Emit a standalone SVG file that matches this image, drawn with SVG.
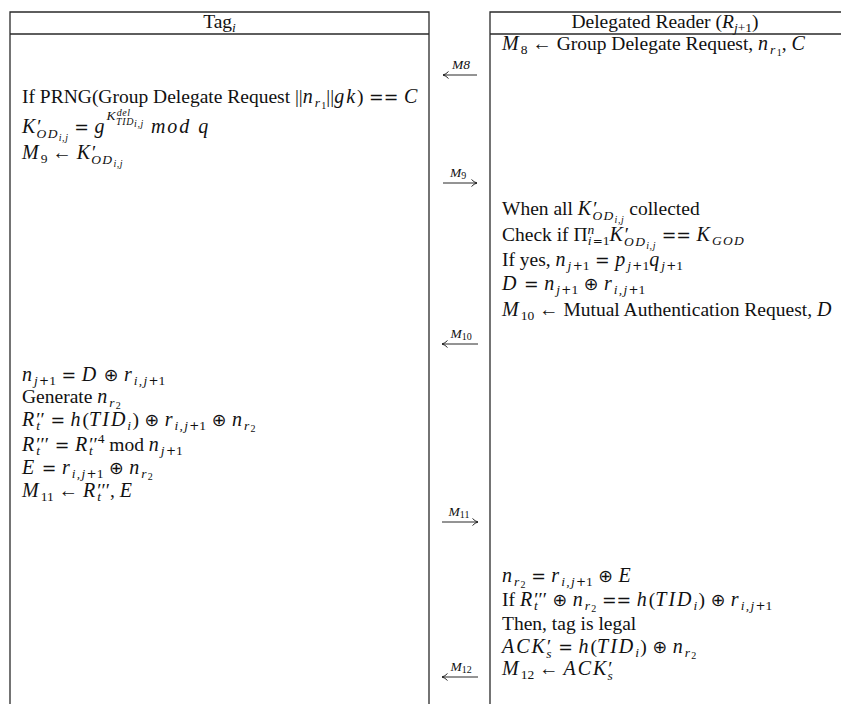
<svg xmlns="http://www.w3.org/2000/svg" width="841" height="704" viewBox="0 0 841 704">
<style>
.t{font-family:"Liberation Serif","Times New Roman",serif;font-size:19.5px;fill:#111}
.m{font-style:italic;font-size:20px;letter-spacing:2px}
.s{font-size:13.5px}
.sm{font-size:13.5px;font-style:italic;letter-spacing:1.3px}
.ss{font-size:10px}
.ssm{font-size:10px;font-style:italic;letter-spacing:0.6px}
.o{font-family:"DejaVu Sans",sans-serif;font-size:17.5px}
.so{font-family:"DejaVu Sans",sans-serif;font-size:12px}
.pr{font-size:19.5px;font-style:normal;letter-spacing:0}
.lbl{font-family:"Liberation Serif","Times New Roman",serif;font-size:13.5px;font-style:italic;fill:#111;text-anchor:middle}
.box{fill:none;stroke:#2a2a2a;stroke-width:1.3}
.arr{fill:none;stroke:#111;stroke-width:0.9}
</style>
<defs>
<marker id="ah" viewBox="0 0 6 10" refX="6" refY="5" markerWidth="6" markerHeight="10" markerUnits="userSpaceOnUse" orient="auto-start-reverse">
<path d="M0.5,1.5 Q3,4.2 6,5 Q3,5.8 0.5,8.5" fill="none" stroke="#111" stroke-width="0.9"/>
</marker>
</defs>
<rect width="841" height="704" fill="#fff"/>

<g id="tag">
<path class="box" d="M10,704 V12 H429 V704 M10,34 H429"/>
<text class="t" x="219.5" y="28" text-anchor="middle">Tag<tspan class="s" font-style="italic" dy="4">i</tspan></text>
<text class="t" x="22" y="103">If PRNG(Group Delegate Request ||<tspan class="m">n</tspan><tspan class="sm" dy="4">r</tspan><tspan class="ss" dy="2">1</tspan><tspan dy="-6">||</tspan><tspan class="m">gk</tspan>)<tspan class="o"> == </tspan><tspan class="m">C</tspan></text>
<text class="t" x="22" y="133"><tspan class="m">K</tspan><tspan class="pr">′</tspan><tspan class="sm" dx="-5" dy="5">OD</tspan><tspan class="ssm" dy="3">i,j</tspan><tspan class="o" dy="-8"> = </tspan><tspan class="m">g</tspan><tspan class="sm" dy="-13">K</tspan><tspan class="ssm" font-size="10.5" dy="-4">del</tspan><tspan class="ssm" font-size="10.5" dx="-14.6" dy="9">TID</tspan><tspan class="ssm" dy="2">i,j</tspan><tspan class="m" dy="6">  mod q</tspan></text>
<text class="t" x="22" y="159"><tspan class="m">M</tspan><tspan class="s" dy="4">9</tspan><tspan dy="-4"> ← </tspan><tspan class="m">K</tspan><tspan class="pr">′</tspan><tspan class="sm" dx="-5" dy="5">OD</tspan><tspan class="ssm" dy="3">i,j</tspan></text>
<text class="t" x="22" y="381"><tspan class="m">n</tspan><tspan class="sm" dy="4">j</tspan><tspan class="so">+</tspan><tspan class="s">1</tspan><tspan class="o" dy="-4"> = </tspan><tspan class="m">D</tspan><tspan class="o"> ⊕ </tspan><tspan class="m">r</tspan><tspan class="sm" dy="4">i,j</tspan><tspan class="so">+</tspan><tspan class="s">1</tspan></text>
<text class="t" x="22" y="403">Generate <tspan class="m">n</tspan><tspan class="sm" dy="4">r</tspan><tspan class="ss" dy="2">2</tspan></text>
<text class="t" x="22" y="426"><tspan class="m">R</tspan><tspan class="sm" dy="4">t</tspan><tspan class="pr" dx="-5" dy="-4">′′</tspan><tspan class="o"> = </tspan><tspan class="m">h</tspan>(<tspan class="m">TID</tspan><tspan class="sm" dy="4">i</tspan><tspan dy="-4">)</tspan><tspan class="o"> ⊕ </tspan><tspan class="m">r</tspan><tspan class="sm" dy="4">i,j</tspan><tspan class="so">+</tspan><tspan class="s">1</tspan><tspan class="o" dy="-4"> ⊕ </tspan><tspan class="m">n</tspan><tspan class="sm" dy="4">r</tspan><tspan class="ss" dy="2">2</tspan></text>
<text class="t" x="22" y="451"><tspan class="m">R</tspan><tspan class="sm" dy="4">t</tspan><tspan class="pr" dx="-5" dy="-4">′′′</tspan><tspan class="o"> = </tspan><tspan class="m">R</tspan><tspan class="sm" dy="4">t</tspan><tspan class="pr" dx="-5" dy="-4">′′</tspan><tspan class="s" dy="-8">4</tspan><tspan dy="8"> mod </tspan><tspan class="m">n</tspan><tspan class="sm" dy="4">j</tspan><tspan class="so">+</tspan><tspan class="s">1</tspan></text>
<text class="t" x="22" y="474"><tspan class="m">E</tspan><tspan class="o"> = </tspan><tspan class="m">r</tspan><tspan class="sm" dy="4">i,j</tspan><tspan class="so">+</tspan><tspan class="s">1</tspan><tspan class="o" dy="-4"> ⊕ </tspan><tspan class="m">n</tspan><tspan class="sm" dy="4">r</tspan><tspan class="ss" dy="2">2</tspan></text>
<text class="t" x="22" y="497"><tspan class="m">M</tspan><tspan class="s" dy="4">11</tspan><tspan dy="-4"> ← </tspan><tspan class="m">R</tspan><tspan class="sm" dy="4">t</tspan><tspan class="pr" dx="-5" dy="-4">′′′</tspan><tspan>, </tspan><tspan class="m">E</tspan></text>
</g>

<g id="reader">
<path class="box" d="M490,704 V12 H841 M490,34 H841"/>
<text class="t" x="665" y="28" text-anchor="middle">Delegated Reader (<tspan font-style="italic">R</tspan><tspan class="s" font-style="italic" dy="4">j</tspan><tspan class="s">+1</tspan><tspan dy="-4">)</tspan></text>
<text class="t" x="502" y="50"><tspan class="m">M</tspan><tspan class="s" dy="4">8</tspan><tspan dy="-4"> ← Group Delegate Request, </tspan><tspan class="m">n</tspan><tspan class="sm" dy="4">r</tspan><tspan class="ss" dy="2">1</tspan><tspan dy="-6">, </tspan><tspan class="m">C</tspan></text>
<text class="t" x="502" y="215">When all <tspan class="m">K</tspan><tspan class="pr">′</tspan><tspan class="sm" dx="-5" dy="5">OD</tspan><tspan class="ssm" dy="3">i,j</tspan><tspan dy="-8"> collected</tspan></text>
<text class="t" x="502" y="241">Check if Π<tspan class="sm" dy="-7">n</tspan><tspan class="sm" dx="-8" dy="11">i</tspan><tspan class="so">=</tspan><tspan class="s">1</tspan><tspan class="m" dy="-4">K</tspan><tspan class="pr">′</tspan><tspan class="sm" dx="-5" dy="5">OD</tspan><tspan class="ssm" dy="3">i,j</tspan><tspan class="o" dy="-8"> == </tspan><tspan class="m">K</tspan><tspan class="sm" dy="4">GOD</tspan></text>
<text class="t" x="502" y="266">If yes, <tspan class="m">n</tspan><tspan class="sm" dy="4">j</tspan><tspan class="so">+</tspan><tspan class="s">1</tspan><tspan class="o" dy="-4"> = </tspan><tspan class="m">p</tspan><tspan class="sm" dy="4">j</tspan><tspan class="so">+</tspan><tspan class="s">1</tspan><tspan class="m" dy="-4">q</tspan><tspan class="sm" dy="4">j</tspan><tspan class="so">+</tspan><tspan class="s">1</tspan></text>
<text class="t" x="502" y="290"><tspan class="m">D</tspan><tspan class="o"> = </tspan><tspan class="m">n</tspan><tspan class="sm" dy="4">j</tspan><tspan class="so">+</tspan><tspan class="s">1</tspan><tspan class="o" dy="-4"> ⊕ </tspan><tspan class="m">r</tspan><tspan class="sm" dy="4">i,j</tspan><tspan class="so">+</tspan><tspan class="s">1</tspan></text>
<text class="t" x="502" y="316"><tspan class="m">M</tspan><tspan class="s" dy="4">10</tspan><tspan dy="-4"> ← Mutual Authentication Request, </tspan><tspan class="m">D</tspan></text>
<text class="t" x="502" y="582"><tspan class="m">n</tspan><tspan class="sm" dy="4">r</tspan><tspan class="ss" dy="2">2</tspan><tspan class="o" dy="-6"> = </tspan><tspan class="m">r</tspan><tspan class="sm" dy="4">i,j</tspan><tspan class="so">+</tspan><tspan class="s">1</tspan><tspan class="o" dy="-4"> ⊕ </tspan><tspan class="m">E</tspan></text>
<text class="t" x="502" y="606">If <tspan class="m">R</tspan><tspan class="sm" dy="4">t</tspan><tspan class="pr" dx="-5" dy="-4">′′′</tspan><tspan class="o"> ⊕ </tspan><tspan class="m">n</tspan><tspan class="sm" dy="4">r</tspan><tspan class="ss" dy="2">2</tspan><tspan class="o" dy="-6"> == </tspan><tspan class="m">h</tspan>(<tspan class="m">TID</tspan><tspan class="sm" dy="4">i</tspan><tspan dy="-4">)</tspan><tspan class="o"> ⊕ </tspan><tspan class="m">r</tspan><tspan class="sm" dy="4">i,j</tspan><tspan class="so">+</tspan><tspan class="s">1</tspan></text>
<text class="t" x="502" y="630">Then, tag is legal</text>
<text class="t" x="502" y="653"><tspan class="m">ACK</tspan><tspan class="pr">′</tspan><tspan class="sm" dx="-5" dy="5">s</tspan><tspan class="o" dy="-5"> = </tspan><tspan class="m">h</tspan>(<tspan class="m">TID</tspan><tspan class="sm" dy="4">i</tspan><tspan dy="-4">)</tspan><tspan class="o"> ⊕ </tspan><tspan class="m">n</tspan><tspan class="sm" dy="4">r</tspan><tspan class="ss" dy="2">2</tspan></text>
<text class="t" x="502" y="675"><tspan class="m">M</tspan><tspan class="s" dy="4">12</tspan><tspan dy="-4"> ← </tspan><tspan class="m">ACK</tspan><tspan class="pr">′</tspan><tspan class="sm" dx="-5" dy="5">s</tspan></text>
</g>

<g id="connectors">
<g id="m8"><path class="arr" d="M477,75 H443" marker-end="url(#ah)"/><text class="lbl" x="461" y="69">M8</text></g>
<g id="m9"><path class="arr" d="M443,183 H477" marker-end="url(#ah)"/><text class="lbl" x="458" y="177">M<tspan font-size="10" font-style="normal" dy="2">9</tspan></text></g>
<g id="m10"><path class="arr" d="M478,344 H442" marker-end="url(#ah)"/><text class="lbl" x="461" y="338">M<tspan font-size="10" font-style="normal" dy="2">10</tspan></text></g>
<g id="m11"><path class="arr" d="M442,522 H478" marker-end="url(#ah)"/><text class="lbl" x="459" y="516">M<tspan font-size="10" font-style="normal" dy="2">11</tspan></text></g>
<g id="m12"><path class="arr" d="M478,677 H442" marker-end="url(#ah)"/><text class="lbl" x="461" y="671">M<tspan font-size="10" font-style="normal" dy="2">12</tspan></text></g>
</g>
</svg>
